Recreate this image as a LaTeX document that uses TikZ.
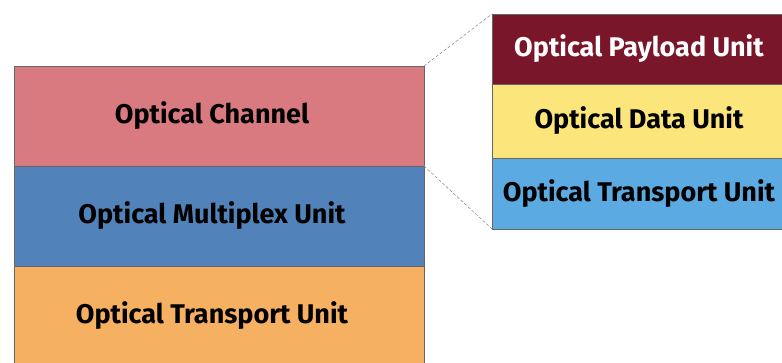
\documentclass[tikz,border=0pt]{standalone}
\usepackage{fontspec}
\setmainfont{Fira Sans}
\usetikzlibrary{positioning,calc}
\def\leftlayerwidth{410pt}
\def\rightlayerwidth{300pt}
\definecolor{chanred}{RGB}{216,122,128}
\definecolor{muxblue}{RGB}{82,130,186}
\definecolor{otuorange}{RGB}{246,176,98}
\definecolor{opured}{RGB}{122,22,42}
\definecolor{oduyellow}{RGB}{252,230,124}
\definecolor{otublue}{RGB}{92,170,226}
\tikzset{
  layer/.style={draw=black!60,line width=0.6pt,inner sep=0,outer sep=0,
    font=\bfseries\fontsize{27}{27}\selectfont},
  bigLayer/.style={layer,minimum width=\leftlayerwidth,minimum height=100pt},
  smallLayer/.style={layer,minimum width=\rightlayerwidth,minimum height=72pt},
  zoomLine/.style={draw=black!50,line width=0.5pt,densely dashed}
}

\begin{document}
\begin{tikzpicture}[x=1pt,y=1pt]
  \useasboundingbox (0,0) rectangle (782,363);

  \node[bigLayer,fill=chanred,anchor=north west] (OCh) at (14,297) {\hspace*{-14pt}Optical Channel};
  \node[bigLayer,fill=muxblue,below=0 of OCh] (OMU) {\hspace*{-14pt}Optical Multiplex Unit};
  \node[bigLayer,fill=otuorange,below=0 of OMU] (OTU) {\hspace*{-14pt}Optical Transport Unit};

  \node[smallLayer,fill=opured,text=white,anchor=north west,minimum height=70pt] (OPU) at (492,349) {\hspace*{-6pt}Optical Payload Unit};
  \node[smallLayer,fill=oduyellow,below=0 of OPU,minimum height=74pt] (ODU) {\hspace*{-6pt}Optical Data Unit};
  \node[smallLayer,fill=otublue,below=0 of ODU,minimum height=71pt] (OTUr) {\hspace*{-6pt}Optical Transport Unit};

  \draw[zoomLine] (OCh.north east) -- (OPU.north west);
  \draw[zoomLine] (OCh.south east) -- (OTUr.south west);

\end{tikzpicture}
\end{document}
